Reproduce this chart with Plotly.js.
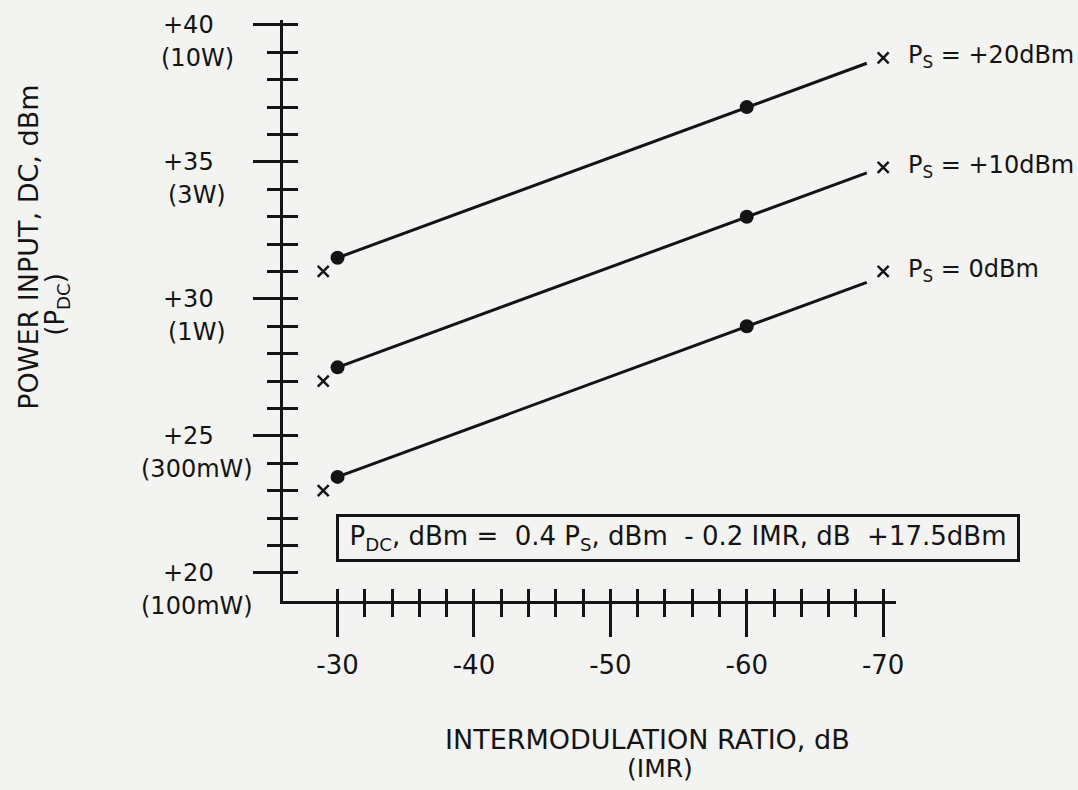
<!DOCTYPE html>
<html><head><meta charset="utf-8">
<script src="https://cdn.plot.ly/plotly-3.0.1.min.js"></script>
<style>html,body{margin:0;padding:0;background:#f3f3f1;} #chart{width:1078px;height:790px;}</style>
</head><body><div id="chart"></div>
<script>
// ---- data ----
const imrLine   = [-30, -60, -68.8];
const pdcLine20 = [31.5, 37.0, 38.6];
const pdcLine10 = [27.5, 33.0, 34.6];
const pdcLine0  = [23.5, 29.0, 30.6];

const imrDots   = [-30, -60];
const pdcDots20 = [31.5, 37.0];
const pdcDots10 = [27.5, 33.0];
const pdcDots0  = [23.5, 29.0];

const imrCross   = [-28.95, -70.0];
const pdcCross20 = [31.0, 38.8];
const pdcCross10 = [27.0, 34.8];
const pdcCross0  = [23.0, 31.0];

const seriesLabels = ['P<sub>S</sub> = +20dBm', 'P<sub>S</sub> = +10dBm', 'P<sub>S</sub> = 0dBm'];

const xTickVals = [-30, -40, -50, -60, -70];
const xTickText = ['-30', '-40', '-50', '-60', '-70'];
const yTickVals = [40, 35, 30, 25, 20];
const yTickText = ['+40', '+35', '+30', '+25', '+20'];
const yTickSub  = ['(10W)', '(3W)', '(1W)', '(300mW)', '(100mW)'];

const formulaText = 'P<sub>DC</sub>, dBm =  0.4 P<sub>S</sub>, dBm  - 0.2 IMR, dB  +17.5dBm';
const xTitle1 = 'INTERMODULATION RATIO, dB';
const xTitle2 = '(IMR)';
const yTitle1 = 'POWER INPUT, DC, dBm';
const yTitle2 = '(P<sub>DC</sub>)';

// ---- geometry helpers ----
const W = 1078, H = 790;
const PL = 283, PR = 896, PT = 20, PB = 601.5;
const px = x => (x - PL) / (PR - PL);
const py = y => (PB - y) / (PB - PT);

const xAll = [], xMinor = [];
for (let v = -30; v >= -70; v -= 2) { xAll.push(v); if (v % 10 !== 0) xMinor.push(v); }
const yAll = [], yMinor = [];
for (let v = 20; v <= 40; v += 1) { yAll.push(v); if (v % 5 !== 0) yMinor.push(v); }

const INK = '#141414';
const FONT = 'DejaVu Sans, Liberation Sans, sans-serif';

const lineTrace = (y) => ({x: imrLine, y: y, mode: 'lines', line: {color: INK, width: 3}, showlegend: false, hoverinfo: 'skip'});
const dotTrace = (y) => ({x: imrDots, y: y, mode: 'markers', marker: {color: INK, size: 14}, showlegend: false, hoverinfo: 'skip'});
const crossTrace = (y) => ({x: imrCross, y: y, mode: 'markers', marker: {symbol: 'x-thin', size: 11, line: {color: INK, width: 2.5}}, showlegend: false, hoverinfo: 'skip'});

const traces = [
  lineTrace(pdcLine20), lineTrace(pdcLine10), lineTrace(pdcLine0),
  dotTrace(pdcDots20), dotTrace(pdcDots10), dotTrace(pdcDots0),
  crossTrace(pdcCross20), crossTrace(pdcCross10), crossTrace(pdcCross0),
  {x: [-50], y: [30], xaxis: 'x2', yaxis: 'y', mode: 'markers', marker: {opacity: 0}, showlegend: false, hoverinfo: 'skip'},
  {x: [-50], y: [30], xaxis: 'x', yaxis: 'y2', mode: 'markers', marker: {opacity: 0}, showlegend: false, hoverinfo: 'skip'}
];

const xRange = [-26.0, -70.94];
const yRange = [18.97, 40.18];

const annotations = [];
// y tick labels (centered two-line)
yTickVals.forEach((v, i) => {
  annotations.push({xref: 'paper', yref: 'y', x: px(188), y: v, xanchor: 'center', yanchor: 'middle',
    text: yTickText[i], showarrow: false, font: {size: 24, color: INK}});
  annotations.push({xref: 'paper', yref: 'y', x: px(197), y: v, yshift: -33, xanchor: 'center', yanchor: 'middle',
    text: yTickSub[i], showarrow: false, font: {size: 24, color: INK}});
});
// series labels at right
[pdcCross20, pdcCross10, pdcCross0].forEach((arr, i) => {
  annotations.push({xref: 'paper', yref: 'y', x: px(906), y: arr[1], yshift: 1, xanchor: 'left', yanchor: 'middle',
    text: seriesLabels[i], showarrow: false, font: {size: 24, color: INK}});
});
// formula box
annotations.push({xref: 'paper', yref: 'paper', x: px(678), y: py(538), xanchor: 'center', yanchor: 'middle',
  text: formulaText, showarrow: false, font: {size: 26, color: INK},
  bordercolor: INK, borderwidth: 3, borderpad: 1, width: 676, height: 40, align: 'center'});
// axis titles
annotations.push({xref: 'paper', yref: 'paper', x: px(647), y: py(740), xanchor: 'center', yanchor: 'middle',
  text: xTitle1, showarrow: false, font: {size: 27, color: INK}});
annotations.push({xref: 'paper', yref: 'paper', x: px(660), y: py(769), xanchor: 'center', yanchor: 'middle',
  text: xTitle2, showarrow: false, font: {size: 25, color: INK}});
annotations.push({xref: 'paper', yref: 'paper', x: px(29), y: py(248), xanchor: 'center', yanchor: 'middle', textangle: -90,
  text: yTitle1, showarrow: false, font: {size: 27, color: INK}});
annotations.push({xref: 'paper', yref: 'paper', x: px(57), y: py(305), xanchor: 'center', yanchor: 'middle', textangle: -90,
  text: yTitle2, showarrow: false, font: {size: 26, color: INK}});

const layout = {
  width: W, height: H,
  margin: {l: PL, r: W - PR, t: PT, b: H - PB, pad: 0},
  paper_bgcolor: '#f3f3f1', plot_bgcolor: 'rgba(0,0,0,0)',
  font: {family: FONT, color: INK},
  showlegend: false,
  xaxis: {
    range: xRange, showline: true, linewidth: 3, linecolor: INK, zeroline: false, showgrid: false,
    ticks: 'outside', ticklen: 33, tickwidth: 3, tickcolor: INK,
    tickmode: 'array', tickvals: xTickVals, ticktext: xTickText, tickfont: {size: 26, color: INK},
    ticklabelstandoff: 6,
    minor: {tickmode: 'array', tickvals: xMinor, ticks: 'outside', ticklen: 13, tickwidth: 3, tickcolor: INK, showgrid: false},
    fixedrange: true
  },
  xaxis2: {
    overlaying: 'x', anchor: 'y', side: 'bottom', range: xRange, showline: false, zeroline: false, showgrid: false,
    ticks: 'inside', ticklen: 12, tickwidth: 3, tickcolor: INK, tickmode: 'array', tickvals: xAll, showticklabels: false,
    fixedrange: true
  },
  yaxis: {
    range: yRange, showline: true, linewidth: 3, linecolor: INK, zeroline: false, showgrid: false,
    ticks: 'outside', ticklen: 27, tickwidth: 3, tickcolor: INK,
    tickmode: 'array', tickvals: yTickVals, showticklabels: false,
    minor: {tickmode: 'array', tickvals: yMinor, ticks: 'outside', ticklen: 13, tickwidth: 3, tickcolor: INK, showgrid: false},
    fixedrange: true
  },
  yaxis2: {
    overlaying: 'y', anchor: 'x', side: 'left', range: yRange, showline: false, zeroline: false, showgrid: false,
    ticks: 'inside', ticklen: 15, tickwidth: 3, tickcolor: INK, tickmode: 'array', tickvals: yAll, showticklabels: false,
    fixedrange: true
  },
  annotations: annotations
};

Plotly.newPlot('chart', traces, layout, {staticPlot: true, displayModeBar: false});
</script>
</body></html>
